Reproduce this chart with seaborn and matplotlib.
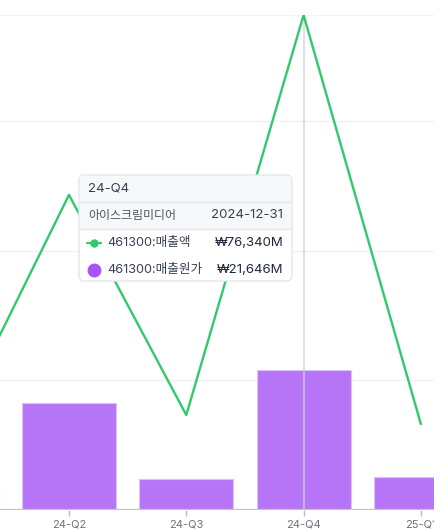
import numpy as np
import pandas as pd
import matplotlib
matplotlib.use("Agg")
import matplotlib.pyplot as plt
from matplotlib.patches import FancyBboxPatch, Rectangle
from matplotlib.lines import Line2D
import seaborn as sns

# ---- data ----
quarters = ["24-Q1", "24-Q2", "24-Q3", "24-Q4", "25-Q1"]
sales = [11900, 48600, 14650, 76340, 13250]        # 461300:매출액 (line)
cost = [4500, 16500, 4800, 21646, 5100]            # 461300:매출원가 (bars)
tick_labels = ["24-Q2", "24-Q3", "24-Q4", "25-Q1"]
tooltip_title = "24-Q4"
company = "아이스크림미디어"
date_label = "2024-12-31"
series_names = ["461300:매출액", "461300:매출원가"]
series_values = ["₩76,340M", "₩21,646M"]

W, H = 434, 529
sns.set_theme(style="white")
plt.rcParams["font.family"] = ["Inter", "Noto Sans CJK KR", "DejaVu Sans"]

fig = plt.figure(figsize=(W / 100, H / 100), dpi=100)
ax = fig.add_axes([0, 19 / H, 1, 495 / H])

df = pd.DataFrame({"q": quarters, "cost": cost, "sales": sales})
sns.barplot(data=df, x="q", y="cost", ax=ax, color="#b675f6", saturation=1,
            width=0.8, edgecolor="#dcc2fb", linewidth=0.8, zorder=2)
sns.lineplot(x=np.arange(len(quarters)), y=sales, ax=ax, color="#32c96c",
             linewidth=1.7, zorder=4)

ax.set_xlim(1 - 69 / 117.3, 1 + (W - 69) / 117.3)
ax.set_ylim(0, 76340)

# grid lines
for v in [20000, 40000, 60000, 76340]:
    ax.axhline(v, color="#f2f2f2", linewidth=1.0, zorder=0)
# baseline
ax.axhline(0, color="#c4c4c4", linewidth=1.6, zorder=5)
# crosshair
ax.axvline(3, color="#d0d0d0", alpha=0.65, linewidth=1.5, zorder=3)

for s in ax.spines.values():
    s.set_visible(False)
ax.set_yticks([])
ax.set_xticks([1, 2, 3, 4])
ax.set_xticklabels(tick_labels)
ax.tick_params(axis="x", length=4, width=1, color="#bdbdbd", direction="out",
               pad=3, labelsize=8, labelcolor="#6b7280", bottom=True)
ax.set_xlabel("")
ax.set_ylabel("")
if ax.get_legend():
    ax.get_legend().remove()

# ---- tooltip ----
def fx(px):
    return px / W

def fy(py):
    return 1 - py / H

x0, x1, y0, y1 = 79, 292, 175, 281
box = FancyBboxPatch((fx(x0), fy(y1)), fx(x1) - fx(x0), fy(y0) - fy(y1),
                     boxstyle="round,pad=0,rounding_size=0.012",
                     transform=fig.transFigure, facecolor="white",
                     edgecolor="#e3e6ea", linewidth=1, zorder=10)
fig.patches.append(box)
hdr = Rectangle((fx(x0 + 1), fy(229)), fx(x1 - 1) - fx(x0 + 1), fy(176) - fy(229),
                transform=fig.transFigure, facecolor="#f7f8fa", edgecolor="none",
                zorder=10.5)
fig.patches.append(hdr)
for ly in (202, 229):
    fig.add_artist(Line2D([fx(x0 + 1), fx(x1 - 1)], [fy(ly), fy(ly)],
                          transform=fig.transFigure, color="#e3e6ea",
                          linewidth=1, zorder=11))

tkw = dict(transform=fig.transFigure, zorder=12, va="center")
fig.text(fx(88), fy(188.5), tooltip_title, color="#374151", ha="left", fontsize=9.5, **tkw)
fig.text(fx(88), fy(215.5), company, color="#4b5563", ha="left", fontsize=8.6, **tkw)
fig.text(fx(283), fy(215.5), date_label, color="#374151", ha="right", fontsize=9.5, **tkw)
fig.text(fx(107), fy(243), series_names[0], color="#374151", ha="left", fontsize=9.1, **tkw)
fig.text(fx(283), fy(243), series_values[0], color="#1f2937", ha="right", fontsize=9.5, **tkw)
fig.text(fx(107), fy(270), series_names[1], color="#374151", ha="left", fontsize=9.1, **tkw)
fig.text(fx(283), fy(270), series_values[1], color="#1f2937", ha="right", fontsize=9.5, **tkw)

fig.add_artist(Line2D([fx(87), fx(101)], [fy(243), fy(243)], transform=fig.transFigure,
                      color="#32c96c", linewidth=1.6, zorder=12))
fig.add_artist(Line2D([fx(94)], [fy(243)], transform=fig.transFigure, marker="o",
                      markersize=5, color="#32c96c", zorder=13))
fig.add_artist(Line2D([fx(94)], [fy(270)], transform=fig.transFigure, marker="o",
                      markersize=9, color="#a855f7", zorder=13))

fig.savefig("out.png", dpi=100)
